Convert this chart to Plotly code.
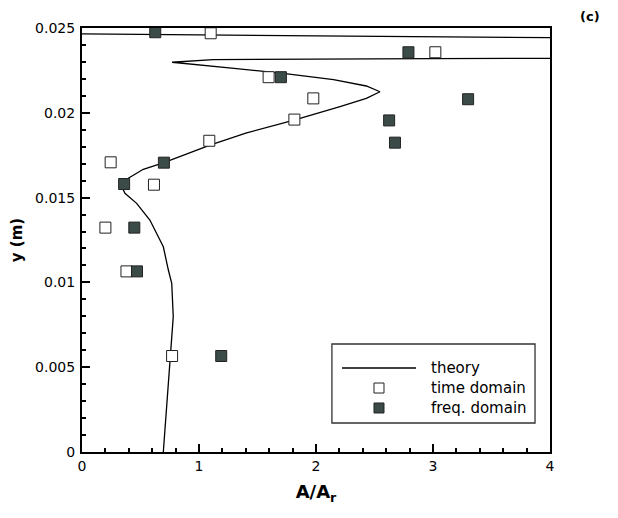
import plotly.graph_objects as go

# ---- data ----
theory_x = [0.695, 0.72, 0.752, 0.775, 0.78, 0.767, 0.738, 0.695, 0.58, 0.467, 0.367, 0.34, 0.345,
            0.396, 0.524, 0.70, 1.094, 1.40, 1.82, 2.205, 2.43, 2.547, 2.43, 2.15, 1.72, 1.30, 1.01,
            0.77, 1.12, 2.0, 3.0, 4.0, 4.3, 4.3, 4.0, 3.0, 2.0, 1.0, 0.0, -0.1]
theory_y = [0.0, 0.0025, 0.00566, 0.00778, 0.00798, 0.00995, 0.01073, 0.0121, 0.01368, 0.01466, 0.01525,
            0.01564, 0.0158, 0.01614, 0.01667, 0.01706, 0.0181, 0.0188, 0.01958, 0.02036, 0.02085,
            0.02124, 0.02158, 0.02195, 0.02233, 0.02262, 0.0228, 0.02298, 0.02314, 0.02318, 0.0232,
            0.02321, 0.02322, 0.02442, 0.02443, 0.02448, 0.02453, 0.0246, 0.02465, 0.02466]

time_x = [1.10, 3.02, 1.595, 1.977, 1.815, 1.088, 0.245, 0.615, 0.20, 0.38, 0.77]
time_y = [0.02469, 0.02357, 0.0221, 0.02085, 0.01960, 0.01835, 0.01708, 0.01576, 0.01323, 0.01065, 0.00566]

freq_x = [0.626, 2.79, 1.70, 3.30, 2.625, 2.675, 0.70, 0.36, 0.447, 0.47, 1.19]
freq_y = [0.02475, 0.02357, 0.0221, 0.0208, 0.01955, 0.01824, 0.01706, 0.0158, 0.01323, 0.01065, 0.00566]

y_tickvals = [0, 0.005, 0.01, 0.015, 0.02, 0.025]
y_ticktext = ["0", "0.005", "0.01", "0.015", "0.02", "0.025"]
x_tickvals = [0, 1, 2, 3, 4]
x_ticktext = ["0", "1", "2", "3", "4"]
legend_labels = ["theory", "time domain", "freq. domain"]

FILL = "#3b4b48"
FONT = "DejaVu Sans, Arial, sans-serif"

fig = go.Figure()
fig.add_trace(go.Scatter(x=theory_x, y=theory_y, mode="lines", line=dict(color="black", width=1.3),
                         showlegend=False))
fig.add_trace(go.Scatter(x=time_x, y=time_y, mode="markers", showlegend=False,
                         marker=dict(symbol="square", size=11, color="white",
                                     line=dict(color="#222222", width=1))))
fig.add_trace(go.Scatter(x=freq_x, y=freq_y, mode="markers", showlegend=False,
                         marker=dict(symbol="square", size=11, color=FILL,
                                     line=dict(color="#222222", width=1))))

axis_common = dict(showgrid=False, zeroline=False, showline=True, linecolor="black", linewidth=2,
                   mirror=True, ticks="inside", ticklen=8, tickwidth=2, tickcolor="black",
                   automargin=False,
                   tickfont=dict(family=FONT, size=14, color="black"))

fig.update_xaxes(range=[0, 4], tickvals=x_tickvals, ticktext=x_ticktext,
                 minor=dict(ticks="inside", ticklen=4, tickwidth=1.5, dtick=0.2, tickcolor="black"),
                 title=dict(text="<b>A/A<sub>r</sub></b>", font=dict(family=FONT, size=18, color="black"),
                            standoff=13),
                 **axis_common)
fig.update_yaxes(range=[0, 0.025], tickvals=y_tickvals, ticktext=y_ticktext, ticklabelstandoff=2,
                 minor=dict(ticks="inside", ticklen=4, tickwidth=1.5, dtick=0.001, tickcolor="black"),
                 title=dict(text="<b>y (m)</b>", font=dict(family=FONT, size=15, color="black"),
                            standoff=12),
                 **axis_common)

# manual legend (paper coords)
shapes = [
    dict(type="rect", xref="paper", yref="paper", x0=0.534, x1=0.968, y0=0.0684, y1=0.2547,
         line=dict(color="#333333", width=1.3), fillcolor="white", layer="above"),
    dict(type="line", xref="paper", yref="paper", x0=0.5556, x1=0.7137, y0=0.1981, y1=0.1981,
         line=dict(color="black", width=1.3), layer="above"),
    dict(type="rect", xref="paper", yref="paper", xsizemode="pixel", ysizemode="pixel",
         xanchor=0.6346, yanchor=0.1509, x0=-5, x1=5, y0=-5, y1=5,
         line=dict(color="#222222", width=1), fillcolor="white", layer="above"),
    dict(type="rect", xref="paper", yref="paper", xsizemode="pixel", ysizemode="pixel",
         xanchor=0.6346, yanchor=0.1038, x0=-5, x1=5, y0=-5, y1=5,
         line=dict(color="#222222", width=1), fillcolor=FILL, layer="above"),
]
annotations = []
for lab, yy in zip(legend_labels, [0.1981, 0.1509, 0.1038]):
    annotations.append(dict(text=lab, xref="paper", yref="paper", x=0.7415, y=yy, xanchor="left",
                            yanchor="middle", showarrow=False,
                            font=dict(family=FONT, size=15, color="black")))
annotations.append(dict(text="<b>(c)</b>", xref="paper", yref="paper", x=1.085, y=1.028,
                        xanchor="center", yanchor="middle", showarrow=False,
                        font=dict(family=FONT, size=13, color="black")))

# the page body adds an 8px offset, so the figure is sized/margined to compensate
fig.update_layout(width=610, height=510, margin=dict(l=74, r=68, t=20, b=66),
                  plot_bgcolor="white", paper_bgcolor="white", shapes=shapes,
                  annotations=annotations, font=dict(family=FONT))
fig.write_html("out.html")
